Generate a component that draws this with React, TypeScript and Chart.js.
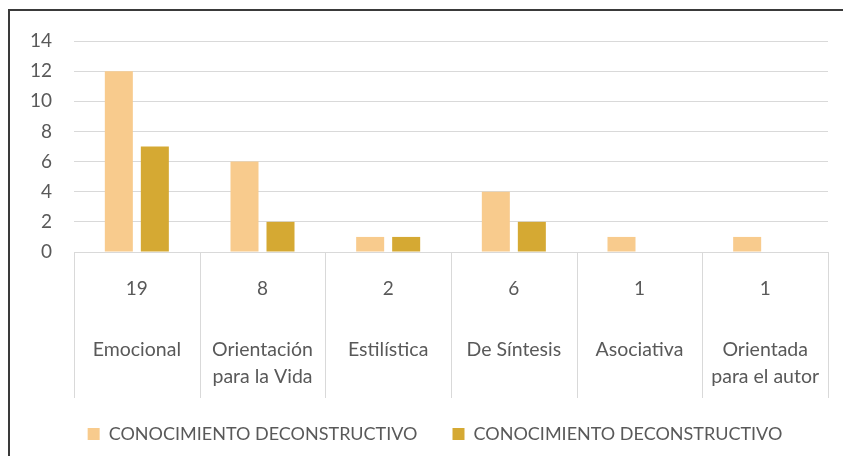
import React, { useEffect, useRef } from "react";
import { Chart, registerables } from "chart.js";

Chart.register(...registerables);

const categories = ["Emocional", ["Orientación", "para la Vida"], "Estilística", "De Síntesis", "Asociativa", ["Orientada", "para el autor"]];
const totals = ["19", "8", "2", "6", "1", "1"];
const seriesA = [12, 6, 1, 4, 1, 1];
const seriesB = [7, 2, 1, 2, 0, 0];
const seriesNames = ["CONOCIMIENTO DECONSTRUCTIVO", "CONOCIMIENTO DECONSTRUCTIVO"];
const yTicks = [0, 2, 4, 6, 8, 10, 12, 14];

const FONT = "Lato, 'Open Sans', sans-serif";
const TEXT = "#595959";
const GRID = "#D9D9D9";

const separators = {
  id: "separators",
  beforeDraw(chart: any) {
    if (chart.legend && !chart.legend._shifted) {
      chart.legend.left += 22;
      chart.legend._shifted = true;
    }
  },
  afterDraw(chart: any) {
    const x = chart.scales.x;
    const ctx = chart.ctx;
    const top = chart.chartArea.bottom;
    const bottom = chart.scales.x2.bottom + 8;
    ctx.save();
    ctx.strokeStyle = GRID;
    ctx.lineWidth = 1;
    for (let i = 0; i <= totals.length; i++) {
      const px = Math.round(x.getPixelForValue(i - 0.5)) + 0.5;
      ctx.beginPath();
      ctx.moveTo(px, top);
      ctx.lineTo(px, bottom);
      ctx.stroke();
    }
    ctx.restore();
  },
};

export default function App() {
  const ref = useRef<HTMLCanvasElement | null>(null);
  useEffect(() => {
    if (!ref.current) return;
    const chart = new Chart(ref.current, {
      type: "bar",
      data: {
        labels: totals,
        datasets: [
          { label: seriesNames[0], data: seriesA, backgroundColor: "#F8CB8D", borderWidth: 0 },
          { label: seriesNames[1], data: seriesB, backgroundColor: "#D5A933", borderWidth: 0 },
        ],
      },
      options: {
        animation: false,
        responsive: false,
        maintainAspectRatio: false,
        categoryPercentage: 0.573,
        barPercentage: 0.778,
        layout: { padding: { top: 41, right: 15, left: 20, bottom: 3 } },
        plugins: {
          tooltip: { enabled: false },
          legend: {
            position: "bottom",
            labels: {
              boxWidth: 12,
              boxHeight: 12,
              padding: 35,
              color: TEXT,
              font: { family: FONT, size: 18 },
            },
          },
        },
        scales: {
          y: {
            min: 0,
            max: 14,
            afterBuildTicks: (s: any) => {
              s.ticks = yTicks.map((v) => ({ value: v }));
            },
            afterFit: (s: any) => {
              s.width = 54;
            },
            grid: { color: GRID, drawTicks: false, lineWidth: 1 },
            border: { display: false },
            ticks: { color: TEXT, font: { family: FONT, size: 19 }, padding: 22 },
          },
          x: {
            weight: 0,
            afterFit: (s: any) => {
              s.height = 84;
              s.paddingLeft = 0;
              s.paddingRight = 0;
            },
            grid: { display: false, drawTicks: false },
            border: { display: true, color: GRID },
            ticks: { color: TEXT, font: { family: FONT, size: 19, lineHeight: 1.2 }, padding: 25 },
          },
          x2: {
            type: "category",
            position: "bottom",
            weight: 1,
            labels: categories as any,
            offset: true,
            afterFit: (s: any) => {
              s.height = 54;
              s.paddingLeft = 0;
              s.paddingRight = 0;
            },
            grid: { display: false, drawTicks: false },
            border: { display: false },
            ticks: { color: TEXT, font: { family: FONT, size: 19.5, lineHeight: 27 / 19.5 }, padding: 0 },
          },
        },
      },
      plugins: [separators],
    });
    return () => chart.destroy();
  }, []);
  return (
    <div style={{ position: "fixed", left: 0, top: 0, width: 843, height: 456, background: "#fff", overflow: "hidden" }}>
      <div style={{ position: "absolute", left: 8, top: 9, width: 900, height: 500, border: "2px solid #3a3a3a", boxSizing: "border-box" }} />
      <canvas ref={ref} width={843} height={456} style={{ position: "absolute", left: 0, top: 0 }} />
    </div>
  );
}
